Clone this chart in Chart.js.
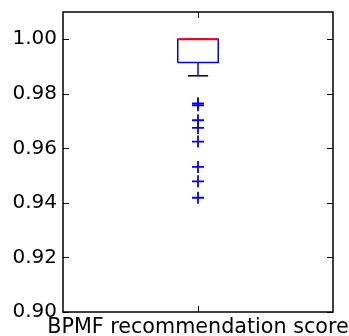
<!doctype html>
<head>
  <meta charset="utf-8" />
  <script src="https://cdn.jsdelivr.net/npm/chart.js@4/dist/chart.umd.min.js"></script>
  <style>
    html, body { margin: 0; padding: 0; background: #fff; }
    #wrap { width: 349px; height: 336px; }
  </style>
</head>
<body>
<div id="wrap"><canvas id="c"></canvas></div>
<script>
  // box summary
  const category = "BPMF recommendation score";
  const q1 = 0.9915;
  const q3 = 1.0;
  const median = 1.0;
  const whiskerLow = 0.9866;
  const whiskerHigh = 1.0;
  const outliers = [0.9765, 0.9758, 0.9703, 0.9675, 0.9625, 0.9532, 0.9479, 0.9419];
  const yTicks = [0.90, 0.92, 0.94, 0.96, 0.98, 1.00];

  const pos = 1, boxW = 0.15, capW = 0.075;
  const lo = pos - boxW / 2, hi = pos + boxW / 2;

  const seg = (x0, y0, x1, y1) => [{ x: x0, y: y0 }, { x: x1, y: y1 }];
  const lineSet = (data, color, order, width = 1.5) => ({
    data, showLine: true, borderColor: color, borderWidth: width,
    pointRadius: 0, fill: false, order
  });

  const frame = {
    id: "frame",
    afterDraw(chart) {
      const { ctx, chartArea: a, scales } = chart;
      ctx.save();
      ctx.strokeStyle = "#000";
      ctx.lineWidth = 1.5;
      ctx.strokeRect(a.left, a.top, a.right - a.left, a.bottom - a.top);
      ctx.lineWidth = 1;
      ctx.beginPath();
      for (const v of yTicks) {
        const y = Math.round(scales.y.getPixelForValue(v)) + 0.5;
        ctx.moveTo(a.left, y); ctx.lineTo(a.left + 6, y);
        ctx.moveTo(a.right, y); ctx.lineTo(a.right - 6, y);
      }
      const x = Math.round(scales.x.getPixelForValue(pos)) + 0.5;
      ctx.moveTo(x, a.bottom); ctx.lineTo(x, a.bottom - 6);
      ctx.moveTo(x, a.top); ctx.lineTo(x, a.top + 6);
      ctx.stroke();
      ctx.restore();
    }
  };

  new Chart(document.getElementById("c"), {
    type: "scatter",
    data: {
      datasets: [
        lineSet(seg(lo, median, hi, median), "#ff0000", 0, 2),
        lineSet([{ x: lo, y: q1 }, { x: hi, y: q1 }, { x: hi, y: q3 }, { x: lo, y: q3 }, { x: lo, y: q1 }], "#0000ff", 1),
        lineSet(seg(pos, q1, pos, whiskerLow), "#0000ff", 2),
        lineSet(seg(pos, q3, pos, whiskerHigh), "#0000ff", 2),
        lineSet(seg(pos - capW / 2, whiskerLow, pos + capW / 2, whiskerLow), "#000000", 2),
        lineSet(seg(pos - capW / 2, whiskerHigh, pos + capW / 2, whiskerHigh), "#000000", 3),
        {
          data: outliers.map(v => ({ x: pos, y: v })),
          pointStyle: "cross", pointRadius: 6, pointBorderWidth: 1.8,
          pointBorderColor: "#0000ff", showLine: false, order: 0
        }
      ]
    },
    options: {
      responsive: true,
      maintainAspectRatio: false,
      animation: false,
      layout: { padding: { left: 0, right: 16, top: 12, bottom: 0 } },
      plugins: { legend: { display: false }, tooltip: { enabled: false } },
      scales: {
        x: {
          type: "linear", min: 0.5, max: 1.5,
          grid: { display: false, drawTicks: false, tickLength: 0 }, border: { display: false },
          afterBuildTicks: s => { s.ticks = [{ value: pos }]; },
          afterFit: s => { s.height = 24; s.paddingLeft = 0; s.paddingRight = 0; },
          ticks: {
            callback: () => category, color: "#000", padding: 3,
            maxRotation: 0, font: { family: "DejaVu Sans", size: 20.7 }
          }
        },
        y: {
          min: 0.9, max: 1.01,
          grid: { display: false, drawTicks: false, tickLength: 0 }, border: { display: false },
          afterBuildTicks: s => { s.ticks = yTicks.map(v => ({ value: v })); },
          afterFit: s => { s.width = 63; s.paddingTop = 0; s.paddingBottom = 0; },
          ticks: {
            callback: v => v.toFixed(2), color: "#000", padding: 6,
            font: { family: "DejaVu Sans", size: 20 }
          }
        }
      }
    },
    plugins: [frame]
  });
</script>
</body>
